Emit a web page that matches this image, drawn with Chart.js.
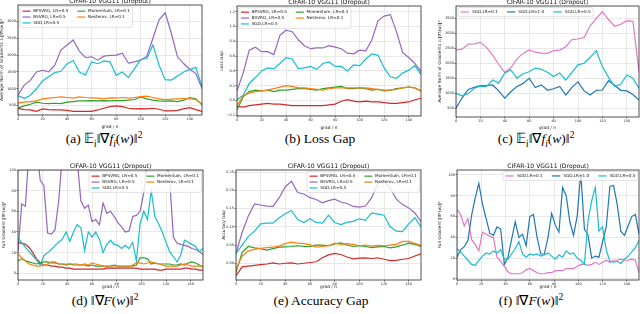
<!DOCTYPE html>
<html><head><meta charset="utf-8">
<script src="https://cdn.jsdelivr.net/npm/chart.js@4.4.0/dist/chart.umd.min.js"></script>
<style>
html,body{margin:0;padding:0;background:#fff;}
#wrap{position:relative;width:640px;height:314px;overflow:hidden;background:#fff;}
canvas{position:absolute;}
.cap{position:absolute;font-family:"Liberation Serif","Times New Roman",serif;font-weight:400;font-size:13.5px;color:#000;white-space:nowrap;transform:translate(-50%,-50%);line-height:1;}
.cap sub,.cap sup{font-size:0.7em;line-height:0;}
</style></head><body><div id="wrap">
<div class="cap" style="left:104px;top:139px">(a) 𝔼<sub>i</sub>‖∇<i>f<sub>i</sub></i>(<i>w</i>)‖<sup>2</sup></div>
<div class="cap" style="left:320px;top:139px">(b) Loss Gap</div>
<div class="cap" style="left:536px;top:139px">(c) 𝔼<sub>i</sub>‖∇<i>f<sub>i</sub></i>(<i>w</i>)‖<sup>2</sup></div>
<div class="cap" style="left:105px;top:301px">(d) ‖∇<i>F</i>(<i>w</i>)‖<sup>2</sup></div>
<div class="cap" style="left:321px;top:301px">(e) Accuracy Gap</div>
<div class="cap" style="left:531px;top:301px">(f) ‖∇<i>F</i>(<i>w</i>)‖<sup>2</sup></div>
</div>
<script>
// ---------- data ----------
const X5 = [0,5,10,15,20,25,30,35,40,45,50,55,60,65,70,75,80,85,90,95,100,105,110,115,120,125,130,135,140,145,150];
const X3 = [0,3,6,9,12,15,18,21,24,27,30,33,36,39,42,45,48,51,54,57,60,63,66,69,72,75,78,81,84,87,90,93,96,99,102,105,108,111,114,117,120,123,126,129,132,135,138,141,144,147,150];
const xTicks = [0,20,40,60,80,100,120,140];
const aYTicks = [500,1000,1500,2000,2500,3000];
const bYTicks = [-0.2,0,0.2,0.4,0.6,0.8,1.0,1.2];
const cYTicks = [500,1000,1500,2000,2500,3000,3500];
const dYTicks = [0,20,40,60,80,100];
const eYTicks = [0,0.05,0.10,0.15,0.20,0.25];
const fYTicks = [0,20,40,60,80,100];

// (a) average norm of gradients
const aBPSVRG   = [420,380,370,330,400,380,370,370,360,330,325,325,330,370,420,470,490,470,420,400,410,400,420,390,340,340,360,400,440,380,330];
const aBSVRG    = [814,1100,1250,1500,1550,1500,1700,2150,2300,2450,2120,1930,1950,1850,1970,1990,2000,2060,1760,1800,1850,1970,2500,3050,3260,2650,1950,1750,1580,1450,1010];
const aSGD      = [800,715,800,1000,1230,1360,1480,1520,1740,1840,1500,1410,1800,1745,1830,1800,1400,1500,1330,1600,1870,1900,2300,1700,1270,1260,1380,1500,1570,1640,1060];
const aMomentum = [430,490,540,600,570,560,570,560,600,620,640,640,650,640,650,640,650,650,660,680,760,700,660,640,630,640,620,660,740,700,520];
const aNesterov = [580,600,620,640,700,720,740,760,740,720,760,740,730,720,700,730,720,740,720,740,770,780,740,700,680,690,700,710,700,680,540];

// (b) loss gap
const bBPSVRG   = [-0.08,-0.09,-0.07,-0.06,-0.05,-0.04,-0.05,-0.05,-0.06,-0.07,-0.07,-0.07,-0.07,-0.07,-0.07,-0.06,-0.05,-0.01,0.01,-0.01,-0.02,-0.01,-0.02,-0.02,-0.03,-0.04,-0.04,-0.03,-0.02,0.01,0.03];
const bBSVRG    = [0.13,0.37,0.68,0.72,0.66,0.66,0.62,0.88,0.95,0.93,0.82,0.74,0.70,0.71,0.71,0.74,0.72,0.70,0.64,0.63,0.68,0.67,0.82,1.08,1.14,1.16,0.93,0.65,0.58,0.50,0.39];
const bSGD      = [0.01,0.07,0.23,0.31,0.40,0.44,0.43,0.50,0.58,0.56,0.43,0.44,0.46,0.42,0.50,0.52,0.46,0.46,0.40,0.48,0.47,0.56,0.63,0.61,0.44,0.32,0.30,0.37,0.41,0.47,0.35];
const bMomentum = [-0.13,0.05,0.12,0.14,0.13,0.14,0.12,0.14,0.14,0.15,0.16,0.16,0.15,0.14,0.16,0.17,0.18,0.19,0.16,0.16,0.17,0.16,0.14,0.15,0.13,0.14,0.16,0.17,0.18,0.17,0.13];
const bNesterov = [-0.07,0.06,0.10,0.12,0.13,0.14,0.16,0.18,0.20,0.19,0.17,0.17,0.16,0.15,0.14,0.16,0.17,0.17,0.17,0.17,0.17,0.17,0.16,0.15,0.14,0.14,0.15,0.17,0.18,0.17,0.13];

// (c) average norm of gradients, SGD
const cSGD01 = [2443,2470,2640,2650,2700,2530,2276,1960,1700,1850,2150,2330,2443,2370,2340,2330,2420,2440,2554,2790,2810,2860,3250,3500,3719,3460,3230,3300,3420,3400,1720];
const cSGD10 = [500,850,1130,1200,1260,1260,1277,1080,840,1050,1230,1330,1500,1190,1280,1100,1150,1230,944,1200,1380,1080,944,1100,1110,1420,1270,1100,1080,960,777];
const cSGD05 = [1000,915,990,1170,1240,1230,1443,1340,1680,1780,1500,1650,1720,1840,1800,1700,1560,1680,1443,1700,1950,2000,2200,2420,1887,1530,1230,1300,1610,1500,1166];

// (d) full gradient
const dBPSVRG   = [30,29,28,25,20,14,10,8,8,7,7,6,6,5,5,4,4,4,4,4,4,4,4,4,5,5,5,5,5,5,5,5,5,4,4,4,4,4,3,3,4,4,4,4,4,5,5,4,4,3,3];
const dBSVRG    = [21,67,65,120,130,125,90,85,39,38,42,70,115,140,140,125,110,70,63,66,50,52,47,68,58,60,55,49,45,40,41,55,56,60,78,115,130,120,140,130,110,90,35,29,28,27,26,24,23,21,18];
const dSGD      = [34,30,25,21,17,13,8,17,20,23,27,30,33,40,31,40,47,44,22,40,35,40,33,20,28,32,28,27,24,27,24,30,12,48,60,52,80,55,48,40,30,21,16,11,18,32,30,28,26,21,24];
const dMomentum = [12,14,12,11,10,9,10,11,11,10,10,9,9,8,9,8,8,8,8,7,8,7,7,7,7,7,8,7,7,7,7,7,8,15,15,14,9,10,9,9,9,9,8,8,9,8,10,11,10,8,6];
const dNesterov = [19,15,12,9,8,7,7,8,9,11,11,9,9,9,9,9,9,8,9,8,10,9,8,7,6,6,6,6,6,6,6,8,10,10,9,10,11,10,9,8,7,7,7,7,8,9,8,7,7,7,7];

// (e) accuracy gap
const eBPSVRG   = [-0.034,-0.01,-0.008,-0.006,-0.004,-0.002,0.001,-0.002,0.0,0.001,-0.002,0.0,0.002,0.004,0.015,0.023,0.027,0.024,0.017,0.012,0.014,0.015,0.013,0.015,0.011,0.007,0.008,0.011,0.013,0.02,0.026];
const eBSVRG    = [0.027,0.085,0.13,0.163,0.16,0.157,0.156,0.18,0.21,0.225,0.194,0.19,0.18,0.175,0.166,0.172,0.176,0.168,0.164,0.156,0.154,0.157,0.18,0.218,0.228,0.206,0.176,0.161,0.152,0.138,0.114];
const eSGD      = [0.027,0.05,0.074,0.088,0.108,0.11,0.11,0.125,0.136,0.145,0.12,0.112,0.122,0.112,0.11,0.132,0.112,0.106,0.112,0.115,0.122,0.118,0.138,0.135,0.132,0.10,0.088,0.087,0.108,0.125,0.10];
const eMomentum = [-0.025,0.03,0.046,0.042,0.04,0.036,0.04,0.044,0.045,0.046,0.048,0.046,0.046,0.05,0.05,0.048,0.053,0.056,0.05,0.046,0.048,0.046,0.043,0.045,0.046,0.042,0.045,0.05,0.055,0.052,0.046];
const eNesterov = [-0.016,0.02,0.034,0.038,0.041,0.043,0.044,0.047,0.054,0.058,0.055,0.054,0.051,0.044,0.046,0.048,0.055,0.052,0.054,0.052,0.048,0.05,0.047,0.049,0.048,0.05,0.052,0.06,0.06,0.055,0.049];

// (f) full gradient, SGD
const fSGD01 = [67,62,51,58,38,33,27,45,43,41,40,21,17,12,7,5,5,5,6,9,10,8,6,5,5,6,6,8,8,8,10,10,10,12,14,14,13,14,16,14,16,18,16,18,18,19,18,18,19,18,6];
const fSGD10 = [21,28,31,37,61,78,92,72,58,44,42,50,48,14,21,38,55,40,43,32,60,62,40,24,24,40,63,52,45,88,80,55,42,60,102,48,42,20,22,21,36,50,89,90,72,46,42,51,60,62,43];
const fSGD05 = [29,26,22,18,14,13,18,22,25,24,27,25,28,19,19,24,29,36,24,21,24,23,24,22,23,25,22,19,23,21,27,24,25,20,18,14,56,75,88,46,50,28,17,16,17,15,19,22,26,30,37];

const labelsOpt = ['BPSVRG, LR=0.5','BSVRG, LR=0.5','SGD,LR=0.5','Momentum, LR=0.1','Nesterov, LR=0.1'];
const labelsSGD = ['SGD,LR=0.1','SGD,LR=1.0','SGD,LR=0.5'];
const colorsOpt = ['#d62728','#9467bd','#17becf','#2ca02c','#ff7f0e'];
const colorsSGD = ['#e377c2','#1f77b4','#17becf'];

// ---------- drawing helpers ----------
const FAM = '"DejaVu Sans", sans-serif';
const panelPlugin = {
  id: 'panel',
  afterDatasetsDraw(chart, args, o) {
    const {ctx, chartArea: a} = chart;
    ctx.save();
    ctx.strokeStyle = '#262626'; ctx.lineWidth = 0.8;
    ctx.strokeRect(a.left, a.top, a.right - a.left, a.bottom - a.top);
    ctx.fillStyle = '#111'; ctx.font = o.titleSize + 'px ' + FAM;
    ctx.textAlign = 'center'; ctx.textBaseline = 'middle';
    ctx.fillText(o.title, (a.left + a.right) / 2, a.top - o.titleGap);
    const L = o.legend, ds = chart.data.datasets, n = ds.length;
    const rows = Math.ceil(n / L.ncol);
    ctx.font = L.size + 'px ' + FAM;
    const colW = [];
    for (let c = 0; c < L.ncol; c++) {
      let w = 0;
      for (let r = 0; r < rows; r++) { const i = c * rows + r; if (i < n) w = Math.max(w, ctx.measureText(ds[i].label).width); }
      colW.push(L.handle + L.gap + w);
    }
    const bw = L.pad * 2 + colW.reduce((s, v) => s + v, 0) + L.colSpace * (L.ncol - 1);
    const bh = L.padY * 2 + rows * L.rowH;
    const x0 = L.corner === 'ul' ? a.left + L.dx : a.right - L.dx - bw;
    const y0 = a.top + L.dy;
    ctx.beginPath(); ctx.roundRect(x0, y0, bw, bh, 1.5);
    ctx.fillStyle = 'rgba(255,255,255,0.8)'; ctx.fill();
    ctx.strokeStyle = '#cccccc'; ctx.lineWidth = 0.6; ctx.stroke();
    ctx.textAlign = 'left';
    let cx = x0 + L.pad;
    for (let c = 0; c < L.ncol; c++) {
      for (let r = 0; r < rows; r++) {
        const i = c * rows + r; if (i >= n) continue;
        const cy = y0 + L.padY + (r + 0.5) * L.rowH;
        ctx.strokeStyle = ds[i].borderColor; ctx.lineWidth = 1.2;
        ctx.beginPath(); ctx.moveTo(cx, cy); ctx.lineTo(cx + L.handle, cy); ctx.stroke();
        ctx.fillStyle = '#111'; ctx.fillText(ds[i].label, cx + L.handle + L.gap, cy + 0.2);
      }
      cx += colW[c] + L.colSpace;
    }
    ctx.restore();
  }
};

const wrap = document.getElementById('wrap');
function makePanel(p) {
  const [bx, by, bw, bh] = p.box, [L, T, R, B] = p.area;
  const cv = document.createElement('canvas');
  cv.width = bw; cv.height = bh;
  cv.style.left = bx + 'px'; cv.style.top = by + 'px';
  wrap.appendChild(cv);
  const yW = L - bx, xH = by + bh - B;
  const n = p.series.length;
  const datasets = p.series.map((s, i) => ({
    label: p.labels[i],
    data: p.x.map((x, j) => ({x: x, y: s[j]})),
    borderColor: p.colors[i], backgroundColor: p.colors[i],
    borderWidth: 1.2, pointRadius: 0, tension: 0, fill: false, clip: 0,
    order: n - i
  }));
  new Chart(cv, {
    type: 'line',
    data: {datasets},
    options: {
      responsive: false, animation: false, devicePixelRatio: 1,
      layout: {padding: {top: T - by, right: bx + bw - R, left: 0, bottom: 0}},
      plugins: {
        legend: {display: false}, tooltip: {enabled: false}, title: {display: false},
        panel: {title: 'CIFAR-10 VGG11 (Dropout)', titleSize: 6.1, titleGap: 3.6, legend: p.legend}
      },
      scales: {
        x: {
          type: 'linear', min: 0, max: 150,
          afterFit: s => { s.height = xH; },
          afterBuildTicks: s => { s.ticks = xTicks.map(v => ({value: v})); },
          ticks: {font: {size: 3.4, family: FAM}, color: '#222', padding: 0.6, maxRotation: 0, autoSkip: false, callback: v => String(v)},
          grid: {color: '#dedede', lineWidth: 0.7, tickLength: 1.6, tickColor: '#333', tickWidth: 0.6},
          border: {display: false},
          title: {display: true, text: 'grad / n', font: {size: 4.3, family: FAM, lineHeight: 1}, padding: 0, color: '#111'}
        },
        y: {
          type: 'linear', min: p.ymin, max: p.ymax,
          afterFit: s => { s.width = yW; },
          afterBuildTicks: s => { s.ticks = p.yticks.map(v => ({value: v})); },
          ticks: {font: {size: 3.4, family: FAM}, color: '#222', padding: 0.6, autoSkip: false, callback: p.fmt},
          grid: {color: '#dedede', lineWidth: 0.7, tickLength: 1.6, tickColor: '#333', tickWidth: 0.6},
          border: {display: false},
          title: {display: true, text: p.ytitle, font: {size: 4.3, family: FAM, lineHeight: 1}, padding: 0, color: '#111'}
        }
      }
    },
    plugins: [panelPlugin]
  });
}

const legOpt = (corner, dx) => ({ncol: 2, corner, size: 4.2, handle: 8, gap: 2.7, pad: 2.5, padY: 1.5, rowH: 5.9, colSpace: 9, dx, dy: 1.7});
const legSGD = (corner, dx) => ({ncol: 3, corner, size: 4.2, handle: 8.5, gap: 3, pad: 2.5, padY: 1.5, rowH: 5.9, colSpace: 9, dx, dy: 1.5});
const fmtInt = v => String(v);
const fmt1 = v => (v < 0 ? '\u2212' : '') + Math.abs(v).toFixed(1);
const fmt2 = v => (v < 0 ? '\u2212' : '') + Math.abs(v).toFixed(2);
const titleGradI = 'Average Norm of Gradients 𝔼ᵢ‖∇fᵢ(w)‖²';
const titleFull = 'Full Gradient ‖∇F(w)‖²';

makePanel({box: [0, 0, 207, 129], area: [18, 5, 202, 115], x: X5, ymin: 220, ymax: 3490, yticks: aYTicks, fmt: fmtInt,
  series: [aBPSVRG, aBSVRG, aSGD, aMomentum, aNesterov], labels: labelsOpt, colors: colorsOpt, ytitle: titleGradI, legend: legOpt('ul', 2)});
makePanel({box: [220, 0, 205, 130], area: [237, 6, 421, 116], x: X5, ymin: -0.21, ymax: 1.277, yticks: bYTicks, fmt: fmt1,
  series: [bBPSVRG, bBSVRG, bSGD, bMomentum, bNesterov], labels: labelsOpt, colors: colorsOpt, ytitle: 'Loss Gap', legend: legOpt('ul', 1.5)});
makePanel({box: [438, 0, 202, 130], area: [456, 6, 639, 117], x: X5, ymin: 210, ymax: 3910, yticks: cYTicks, fmt: fmtInt,
  series: [cSGD01, cSGD10, cSGD05], labels: labelsSGD, colors: colorsSGD, ytitle: titleGradI, legend: legSGD('ul', 2)});
makePanel({box: [2, 155, 206, 134], area: [18, 170, 203, 280], x: X3, ymin: -6.5, ymax: 100, yticks: dYTicks, fmt: fmtInt,
  series: [dBPSVRG, dBSVRG, dSGD, dMomentum, dNesterov], labels: labelsOpt, colors: colorsOpt, ytitle: titleFull, legend: legOpt('ur', 1.5)});
makePanel({box: [222, 155, 203, 134], area: [236, 170, 421, 280], x: X5, ymin: -0.046, ymax: 0.256, yticks: eYTicks, fmt: fmt2,
  series: [eBPSVRG, eBSVRG, eSGD, eMomentum, eNesterov], labels: labelsOpt, colors: colorsOpt, ytitle: 'Accuracy Gap', legend: legOpt('ur', 1.5)});
makePanel({box: [438, 155, 202, 134], area: [457, 170, 639, 280], x: X3, ymin: -1, ymax: 104.8, yticks: fYTicks, fmt: fmtInt,
  series: [fSGD01, fSGD10, fSGD05], labels: labelsSGD, colors: colorsSGD, ytitle: titleFull, legend: legSGD('ur', 1)});
</script>
</body></html>
